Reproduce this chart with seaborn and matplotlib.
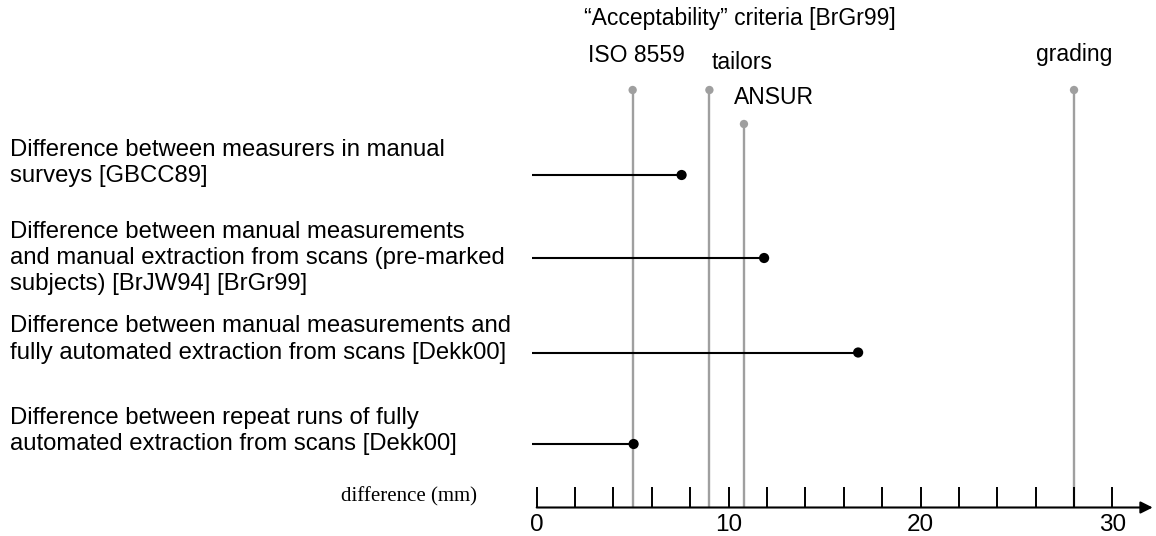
import numpy as np
import pandas as pd
import matplotlib.pyplot as plt
import seaborn as sns

# measured differences (mm) for each comparison
row_labels = [
    "Difference between measurers in manual\nsurveys [GBCC89]",
    "Difference between manual measurements\nand manual extraction from scans (pre-marked\nsubjects) [BrJW94] [BrGr99]",
    "Difference between manual measurements and\nfully automated extraction from scans [Dekk00]",
    "Difference between repeat runs of fully\nautomated extraction from scans [Dekk00]",
]
row_values = [7.55, 11.85, 16.75, 5.05]

# acceptability criteria (mm)
crit_labels = ["ISO 8559", "tailors", "ANSUR", "grading"]
crit_values = [5.0, 9.0, 10.8, 28.0]

tick_major = [0, 10, 20, 30]
tick_minor = list(range(0, 31, 2))

# layout (pixel rows, y axis runs top to bottom)
row_y = [175, 258, 352.5, 444]
row_text_y = [163, 258, 339.5, 431]
crit_top = [90, 90, 124, 90]
crit_text = [(636, 55), (742, 62), (774, 97), (1074, 55)]
axis_y = 507.5
line_start = -0.25

px_per_mm = 19.19
x0_px = 536.7
W, H = 1156, 536

sns.set_theme(style="white")
plt.rcParams["font.family"] = ["Liberation Sans", "DejaVu Sans"]
plt.rcParams["text.color"] = "black"

fig = plt.figure(figsize=(W / 100, H / 100), dpi=100)
ax = fig.add_axes([0, 0, 1, 1])
ax.set_xlim(-x0_px / px_per_mm, (W - x0_px) / px_per_mm)
ax.set_ylim(H, 0)
ax.axis("off")

grey = "#9f9f9f"
fs = 16.5

# criteria lines
crit = pd.DataFrame({"label": crit_labels, "mm": crit_values, "top": crit_top})
ax.vlines(crit["mm"], crit["top"], axis_y, color=grey, lw=1.7, zorder=1)
sns.scatterplot(data=crit, x="mm", y="top", color=grey, s=36, edgecolor="none", ax=ax, zorder=2)
for lab, (px, py) in zip(crit_labels, crit_text):
    ax.text(px / W, 1 - py / H, lab, transform=ax.transAxes, ha="center", va="center", fontsize=fs)
ax.text(740 / W, 1 - 18 / H, "\u201cAcceptability\u201d criteria [BrGr99]", transform=ax.transAxes,
        ha="center", va="center", fontsize=fs)

# measured differences
rows = pd.DataFrame({"label": row_labels, "mm": row_values, "y": row_y})
ax.hlines(rows["y"], line_start, rows["mm"], color="black", lw=1.5, zorder=3)
sns.scatterplot(data=rows, x="mm", y="y", color="black", s=54, edgecolor="none", ax=ax, zorder=4)
for lab, ty in zip(row_labels, row_text_y):
    ax.text(10 / W, 1 - ty / H, lab, transform=ax.transAxes, ha="left", va="center",
            fontsize=17.2, linespacing=1.25)

# axis with arrow
ax.annotate("", xy=(32.1, axis_y), xytext=(0, axis_y),
            arrowprops=dict(arrowstyle="-|>", color="black", lw=1.5, mutation_scale=18,
                            shrinkA=0, shrinkB=0))
ax.vlines(tick_minor, axis_y - 20.5, axis_y, color="black", lw=1.4)
for t in tick_major:
    ax.text(t, 525, str(t), ha="center", va="center", fontsize=17.5)
ax.text(477 / W, 1 - 497 / H, "difference (mm)", transform=ax.transAxes, ha="right", va="center",
        fontsize=15, family=["Liberation Serif", "DejaVu Serif"])

fig.savefig("out.png", dpi=100)
plt.close(fig)
